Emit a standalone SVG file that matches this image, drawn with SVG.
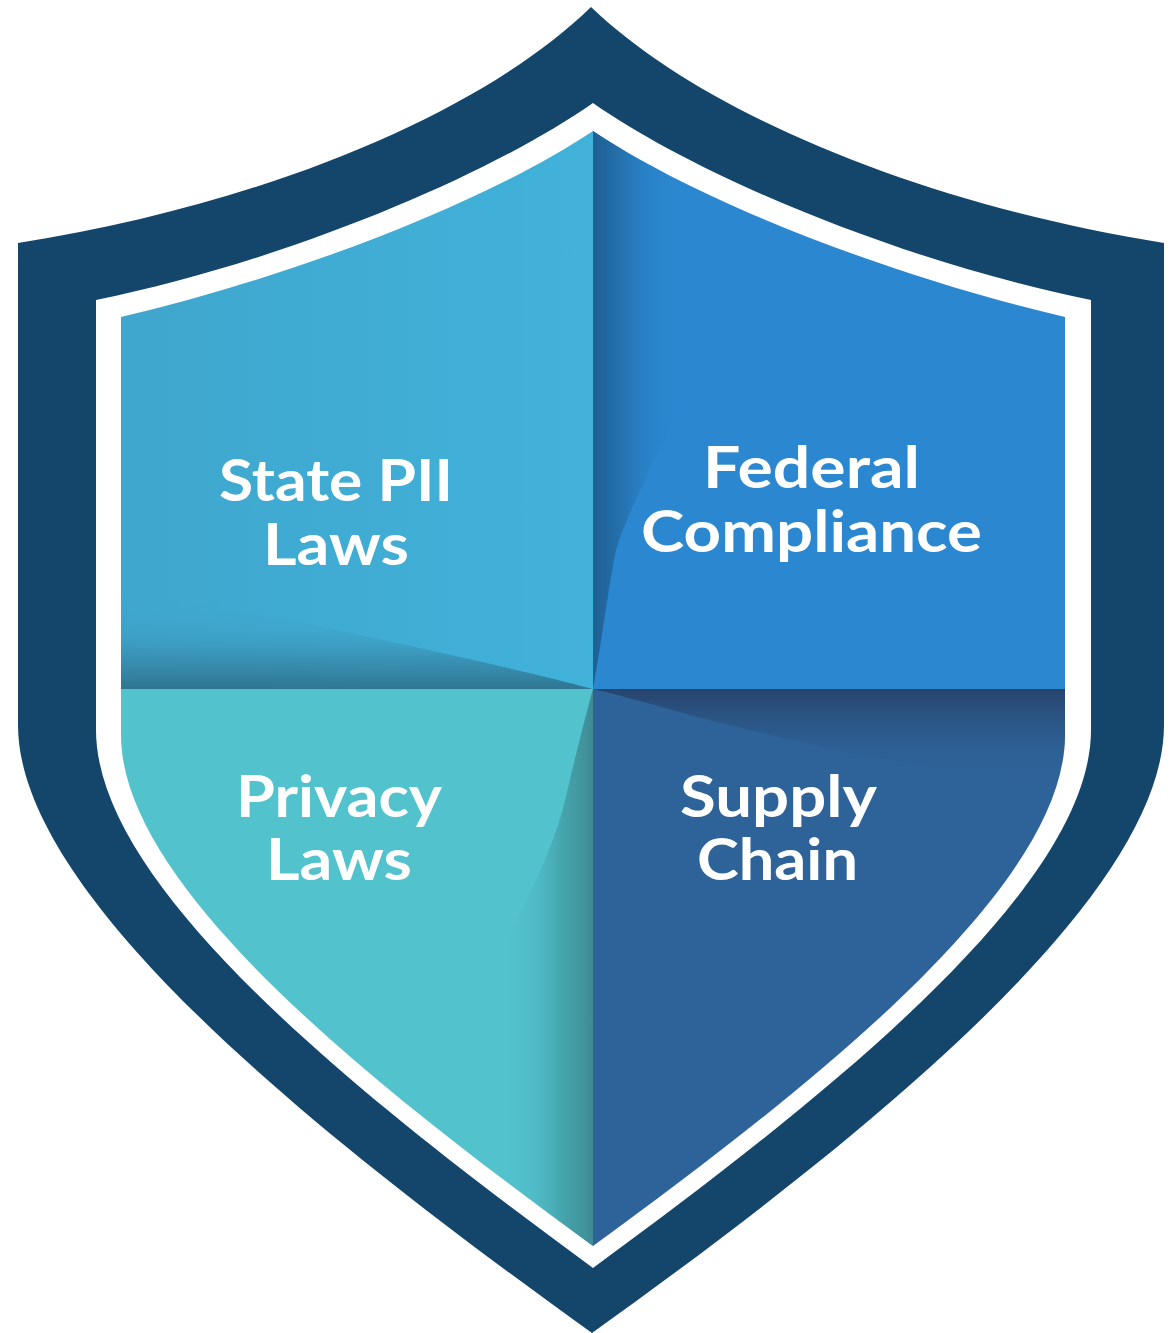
<svg xmlns="http://www.w3.org/2000/svg" width="1176" height="1333" viewBox="0 0 1176 1333">
  <style>
    .label { font-family: "Lato", "Open Sans", sans-serif; font-weight: 700; font-size: 58px; fill: #ffffff; }
  </style>
  <defs>
    <linearGradient id="tlBase" gradientUnits="userSpaceOnUse" x1="121" y1="0" x2="593" y2="0">
      <stop offset="0" stop-color="#3fa6cd"/><stop offset="1" stop-color="#41b2da"/>
    </linearGradient>
    <linearGradient id="tlShade" gradientUnits="userSpaceOnUse" x1="0" y1="689" x2="0" y2="595">
      <stop offset="0" stop-color="#2f7592" stop-opacity="1"/>
      <stop offset="0.3" stop-color="#34809f" stop-opacity="0.62"/>
      <stop offset="0.62" stop-color="#3a94b7" stop-opacity="0.22"/>
      <stop offset="1" stop-color="#3fa6cd" stop-opacity="0"/>
    </linearGradient>
    <linearGradient id="trShade" gradientUnits="userSpaceOnUse" x1="593" y1="0" x2="682" y2="0">
      <stop offset="0" stop-color="#1f6093" stop-opacity="1"/>
      <stop offset="0.25" stop-color="#2268a0" stop-opacity="0.85"/>
      <stop offset="0.6" stop-color="#2678b8" stop-opacity="0.35"/>
      <stop offset="1" stop-color="#2b87cf" stop-opacity="0"/>
    </linearGradient>
    <linearGradient id="blShade" gradientUnits="userSpaceOnUse" x1="593" y1="0" x2="497" y2="0">
      <stop offset="0" stop-color="#3e8b94" stop-opacity="1"/>
      <stop offset="0.3" stop-color="#429aa3" stop-opacity="0.8"/>
      <stop offset="0.62" stop-color="#4aafb9" stop-opacity="0.35"/>
      <stop offset="1" stop-color="#52c2cd" stop-opacity="0"/>
    </linearGradient>
    <linearGradient id="brShade" gradientUnits="userSpaceOnUse" x1="0" y1="689" x2="0" y2="790">
      <stop offset="0" stop-color="#27436c" stop-opacity="1"/>
      <stop offset="0.36" stop-color="#294e7b" stop-opacity="0.55"/>
      <stop offset="0.7" stop-color="#2b5a8b" stop-opacity="0.18"/>
      <stop offset="1" stop-color="#2e6399" stop-opacity="0"/>
    </linearGradient>
    <clipPath id="tlClip"><path d="M593,131 C490,200 300,275 121,317 L121,689 L593,689 Z"/></clipPath>
    <clipPath id="trClip"><path d="M593,131 C696,200 886,275 1065,317 L1065,689 L593,689 Z"/></clipPath>
    <clipPath id="blClip"><path d="M121,689 L593,689 L593,1246 C365,1080 121,885 121,735 Z"/></clipPath>
    <clipPath id="brClip"><path d="M1065,689 L593,689 L593,1246 C821,1080 1065,885 1065,735 Z"/></clipPath>
  </defs>

  <g id="shield-outer">
    <path fill="#14466b" d="M591,7 C480,115 260,205 18,243 L18,725 C18,900 330,1145 592,1333 C854,1145 1164,900 1164,725 L1164,243 C925,205 704,115 591,7 Z"/>
  </g>
  <g id="shield-band">
    <path fill="#ffffff" d="M593,103 C490,175 290,260 96,300 L96,730 C96,885 350,1090 593,1268 C836,1090 1091,885 1091,730 L1091,300 C896,260 696,175 593,103 Z"/>
  </g>

  <g id="state-pii-laws">
    <path fill="url(#tlBase)" d="M593,131 C490,200 300,275 121,317 L121,689 L593,689 Z"/>
    <g clip-path="url(#tlClip)">
      <path fill="url(#tlShade)" d="M593,689 C520,670 440,652 300,622 C240,610 180,600 121,590 L121,689 Z"/>
    </g>
    <text class="label" x="219" y="501" textLength="234" lengthAdjust="spacingAndGlyphs">State PII</text>
    <text class="label" x="263" y="565" textLength="146" lengthAdjust="spacingAndGlyphs">Laws</text>
  </g>

  <g id="federal-compliance">
    <path fill="#2b87cf" d="M593,131 C696,200 886,275 1065,317 L1065,689 L593,689 Z"/>
    <g clip-path="url(#trClip)">
      <path fill="url(#trShade)" d="M593,689 C602,640 608,590 616,550 C630,505 655,465 682,400 L690,120 L593,120 Z"/>
    </g>
    <text class="label" x="703" y="488" textLength="217" lengthAdjust="spacingAndGlyphs">Federal</text>
    <text class="label" x="641" y="552" textLength="341" lengthAdjust="spacingAndGlyphs">Compliance</text>
  </g>

  <g id="privacy-laws">
    <path fill="#52c2cd" d="M121,689 L593,689 L593,1246 C365,1080 121,885 121,735 Z"/>
    <g clip-path="url(#blClip)">
      <path fill="url(#blShade)" d="M593,689 C583,725 572,770 564,805 C552,850 530,895 497,960 L480,1260 L593,1260 Z"/>
    </g>
    <text class="label" x="236" y="817" textLength="206" lengthAdjust="spacingAndGlyphs">Privacy</text>
    <text class="label" x="266" y="880" textLength="146" lengthAdjust="spacingAndGlyphs">Laws</text>
  </g>

  <g id="supply-chain">
    <path fill="#2e6399" d="M1065,689 L593,689 L593,1246 C821,1080 1065,885 1065,735 Z"/>
    <g clip-path="url(#brClip)">
      <path fill="url(#brShade)" d="M593,689 C640,700 690,716 730,725 C780,738 840,752 900,762 C960,772 1010,782 1070,795 L1070,689 Z"/>
    </g>
    <text class="label" x="680" y="817" textLength="197" lengthAdjust="spacingAndGlyphs">Supply</text>
    <text class="label" x="697" y="880" textLength="161" lengthAdjust="spacingAndGlyphs">Chain</text>
  </g>
</svg>
